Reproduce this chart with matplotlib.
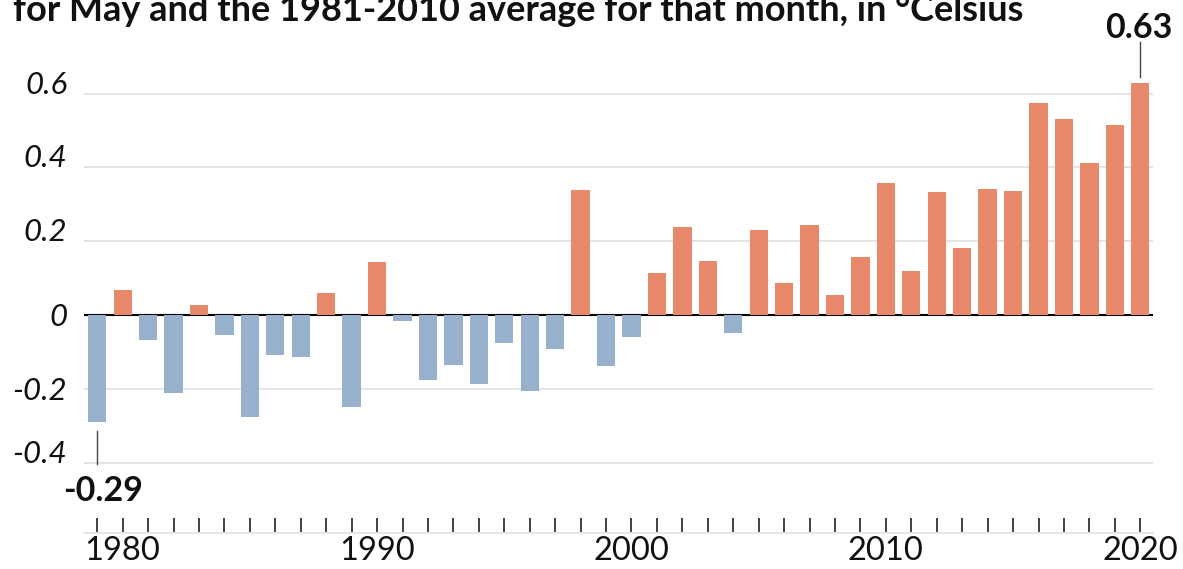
import matplotlib
matplotlib.use("Agg")
import matplotlib.pyplot as plt
import numpy as np

# ---- data ----
years = list(range(1979, 2021))
anomalies = [
    -0.29, 0.068, -0.069, -0.212, 0.027, -0.054, -0.277, -0.108, -0.113, 0.059,
    -0.248, 0.144, -0.016, -0.177, -0.135, -0.187, -0.075, -0.205, -0.092, 0.338,
    -0.137, -0.060, 0.114, 0.239, 0.146, -0.050, 0.230, 0.087, 0.243, 0.054,
    0.156, 0.358, 0.119, 0.333, 0.182, 0.342, 0.336, 0.574, 0.532, 0.412,
    0.516, 0.63,
]
ytick_values = [-0.4, -0.2, 0, 0.2, 0.4, 0.6]
ytick_labels = ["-0.4", "-0.2", "0", "0.2", "0.4", "0.6"]
xlabel_years = [1980, 1990, 2000, 2010, 2020]
title = "for May and the 1981-2010 average for that month, in \u00b0Celsius"
min_label = "-0.29"
max_label = "0.63"

# ---- style ----
plt.rcParams['font.family'] = ['Lato', 'DejaVu Sans']
ORANGE = "#E9896C"
BLUE = "#97B0CB"
GRID = "#e4e4e4"

W, H = 1183, 569
fig = plt.figure(figsize=(W / 100, H / 100), dpi=100)

ax_left, ax_right = 84, 1153
ax_top, ax_bottom = 60, 533
ax = fig.add_axes([ax_left / W, (H - ax_bottom) / H, (ax_right - ax_left) / W, (ax_bottom - ax_top) / H])

px_per_unit = 369.0
zero_px = 315.0
ax.set_ylim((zero_px - ax_bottom) / px_per_unit, (zero_px - ax_top) / px_per_unit)
ax.set_xlim(1978.48, 2020.5)

colors = [ORANGE if v >= 0 else BLUE for v in anomalies]
ax.bar(years, anomalies, width=0.72, color=colors, zorder=3)

# gridlines
for v in ytick_values:
    if v == 0:
        ax.axhline(0, color="black", lw=1.5, zorder=2)
    else:
        ax.axhline(v, color=GRID, lw=1.4, zorder=1)

# y tick labels
ax.set_yticks(ytick_values)
ax.set_yticklabels(ytick_labels)
ax.tick_params(axis='y', length=0, pad=12, labelsize=22.5)
for lab, v in zip(ax.get_yticklabels(), ytick_values):
    lab.set_fontstyle('italic')
    lab.set_color('#111111')
    if v > 0 or v == -0.4:
        lab.set_va('baseline')
    else:
        lab.set_va('center_baseline')

# x ticks
ax.set_xticks(years)
ax.set_xticklabels([str(y) if y in xlabel_years else "" for y in years])
ax.tick_params(axis='x', direction='in', length=10.8, width=1.3, color='#333333',
               labelsize=23.5, pad=2, labelcolor='#111111')

for s in ['top', 'right', 'left']:
    ax.spines[s].set_visible(False)
ax.spines['bottom'].set_color(GRID)
ax.spines['bottom'].set_linewidth(1.4)

# annotations for min and max
i_min = int(np.argmin(anomalies))
i_max = int(np.argmax(anomalies))
ymin_v, ymax_v = anomalies[i_min], anomalies[i_max]
ax.plot([years[i_min], years[i_min]], [ymin_v - 9 / px_per_unit, ymin_v - 42 / px_per_unit],
        color="#444444", lw=1.0, clip_on=False, zorder=4)
ax.text(years[i_min] + 0.22, ymin_v - 66 / px_per_unit, min_label, ha='center', va='center_baseline',
        fontsize=24.5, fontweight='bold', color='#111111', clip_on=False)
ax.plot([years[i_max], years[i_max]], [ymax_v + 6 / px_per_unit, ymax_v + 41 / px_per_unit],
        color="#444444", lw=1.0, clip_on=False, zorder=4)
ax.text(years[i_max] - 0.07, ymax_v + 58 / px_per_unit, max_label, ha='center', va='center_baseline',
        fontsize=24.5, fontweight='bold', color='#111111', clip_on=False)

# title (top partially cut off, as in the reference)
t = fig.text(13 / W, (H - 21) / H, title, ha='left', va='baseline', fontsize=24,
             fontweight='bold', color='#111111')
fig.canvas.draw()
r = fig.canvas.get_renderer()
wpx = t.get_window_extent(r).width
t.set_fontsize(24 * 1011 / wpx)

fig.savefig("out.png", dpi=100)
